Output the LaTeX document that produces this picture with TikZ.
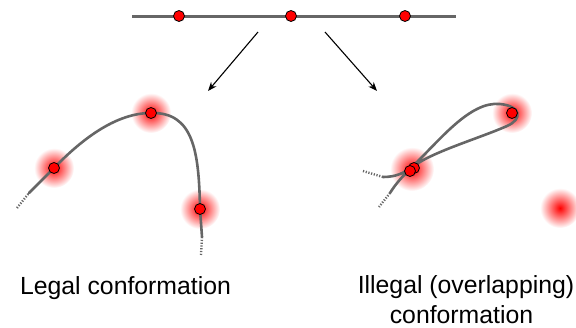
\documentclass[tikz,border=0pt]{standalone}
\usepackage{fontspec}
\setmainfont{Liberation Sans}
\usetikzlibrary{arrows.meta}
\definecolor{chain}{HTML}{666666}
\tikzset{
  bead/.style={circle, fill=red, draw=black, line width=0.8pt, minimum size=11pt, inner sep=0pt},
  chainline/.style={draw=chain, line width=2.6pt, line cap=round},
  chainend/.style={draw=chain, line width=2.4pt, dash pattern=on 1.2pt off 1.6pt},
  glow/.style={inner color=red, outer color=white},
  movearrow/.style={-{Stealth[length=9pt,width=7pt]}, line width=1.1pt, black},
  caption/.style={anchor=base, font=\fontsize{24.8}{30}\selectfont, inner sep=0pt}
}
\begin{document}
\begin{tikzpicture}[x=1pt,y=-1pt]
\useasboundingbox (0,0) rectangle (576,327);
% top straight chain
\coordinate (tl) at (132,16);
\coordinate (tr) at (456,16);
\draw[chainline, line width=3pt, line cap=butt] (tl) -- (tr);
\node[bead] (t1) at (179,16) {};
\node[bead] (t2) at (291,16) {};
\node[bead] (t3) at (405,16) {};
% arrows
\coordinate (a1s) at (258,32);
\coordinate (a1e) at (208,91);
\coordinate (a2s) at (325,32);
\coordinate (a2e) at (377,91);
\draw[movearrow] (a1s) -- (a1e);
\draw[movearrow] (a2s) -- (a2e);
% glows
\shade[glow] (54,168) circle (20);
\shade[glow] (151,113) circle (20);
\shade[glow] (200,209) circle (20);
\shade[glow] (412,169) circle (22);
\shade[glow] (512,113) circle (20);
\shade[glow] (560,208) circle (20);
% left (legal) chain
\coordinate (l0) at (17,208);
\coordinate (l1) at (29,193);
\coordinate (l5) at (202,237);
\coordinate (l6) at (201,255);
\draw[chainend] (l0) -- (l1);
\draw[chainline] (l1) -- (54,168) .. controls (85,136) and (118,113) .. (151,113)
  .. controls (193,112) and (199,150) .. (200,209) -- (l5);
\draw[chainend] (l5) -- (l6);
\node[bead] (l2) at (54,168) {};
\node[bead] (l3) at (151,113) {};
\node[bead] (l4) at (200,209) {};
% right (illegal) chain
\coordinate (r0) at (363,171);
\coordinate (r1) at (383,177);
\coordinate (r5) at (390,193);
\coordinate (r6) at (379,207);
\draw[chainend] (r0) -- (r1);
\draw[chainline] (r1) .. controls (396,177) and (404,173) .. (412,167)
  .. controls (440,140) and (470,101) .. (500,104)
  .. controls (521,106) and (523,119) .. (507,126)
  .. controls (480,138) and (432,152) .. (414,166)
  .. controls (402,176) and (395,185) .. (r5);
\draw[chainend] (r5) -- (r6);
\node[bead] (r2) at (414,168) {};
\node[bead] (r3) at (410,171) {};
\node[bead] (r4) at (512,113) {};
% captions
\node[caption] (legal) at (125.5,294) {Legal conformation};
\node[caption] (illegal1) at (466,293) {Illegal (overlapping)};
\node[caption] (illegal2) at (461.5,323) {conformation};
\end{tikzpicture}
\end{document}
